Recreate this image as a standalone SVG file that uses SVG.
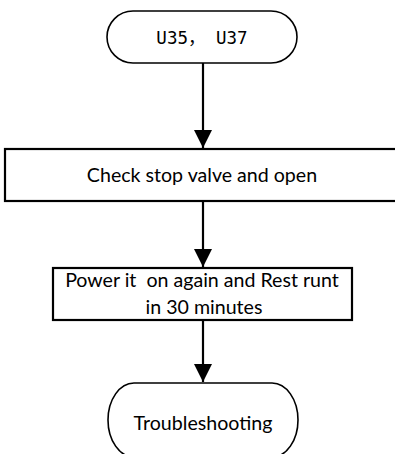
<svg xmlns="http://www.w3.org/2000/svg" width="395" height="454" viewBox="0 0 395 454">
<style>
.term{fill:#fff;stroke:#000;stroke-width:1.6}
.box{fill:#fff;stroke:#000;stroke-width:2.2}
.edge{stroke:#000;stroke-width:2.2;fill:none}
.t{font-family:Lato,"Liberation Sans",sans-serif;font-size:19.6px;fill:#000;text-anchor:middle}
.m{font-family:"DejaVu Sans Mono","Noto Sans CJK SC",monospace;font-size:17.5px;fill:#000;text-anchor:middle}
</style>
<defs>
<marker id="ah" markerUnits="userSpaceOnUse" markerWidth="20" markerHeight="20" viewBox="0 0 20 20" refX="18" refY="9" orient="auto">
<path d="M0,0 L18,9 L0,18 Z" fill="#000"/>
</marker>
</defs>
<g id="connectors">
<line class="edge" x1="203" y1="63" x2="203" y2="148" marker-end="url(#ah)"/>
<line class="edge" x1="203" y1="201" x2="203" y2="267" marker-end="url(#ah)"/>
<line class="edge" x1="203" y1="320" x2="203" y2="382" marker-end="url(#ah)"/>
</g>
<g id="start">
<rect class="term" x="107" y="11" width="190" height="52" rx="26" ry="26"/>
<text class="m" x="202" y="44">U35， U37</text>
</g>
<g id="check">
<rect class="box" x="5" y="149" width="400" height="52"/>
<text class="t" x="202" y="182">Check stop valve and open</text>
</g>
<g id="power">
<rect class="box" x="53" y="268" width="299" height="52"/>
<text class="t" x="202" y="287" xml:space="preserve">Power it  on again and Rest runt</text>
<text class="t" x="204" y="314">in 30 minutes</text>
</g>
<g id="end">
<rect class="term" x="108" y="383" width="190" height="74" rx="26" ry="37"/>
<text class="t" x="203" y="430">Troubleshooting</text>
</g>
</svg>
